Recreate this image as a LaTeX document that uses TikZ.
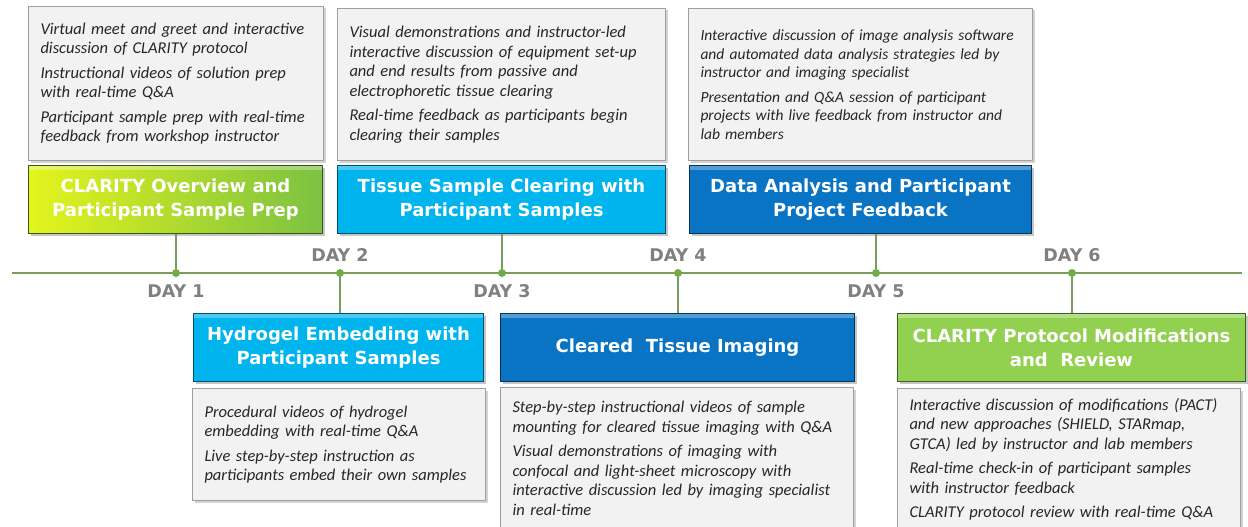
\documentclass[tikz,border=0pt]{standalone}
\usepackage{fontspec}
\setmainfont{Carlito}
\newfontfamily\headfont{DejaVu Sans}
\usepackage{xcolor}
\usetikzlibrary{positioning,shadows}

\definecolor{cyanbox}{HTML}{00B4EE}
\definecolor{bluebox}{HTML}{0A74C4}
\definecolor{limebox}{HTML}{92D050}
\definecolor{yellowbox}{HTML}{E4F41C}
\definecolor{greenbox}{HTML}{7CC142}
\definecolor{lineg}{HTML}{7A9C5C}
\definecolor{dotg}{HTML}{70AD47}
\definecolor{dayg}{HTML}{808080}
\definecolor{notefill}{HTML}{F2F2F2}
\definecolor{notetext}{HTML}{262626}

\begin{document}
\begin{tikzpicture}[x=1pt, y=-1pt,
    titlebox/.style={draw=#1!45!black, fill=#1, text=white, line width=1pt,
      font=\headfont\bfseries\fontsize{18}{24}\selectfont, align=center,
      anchor=north west, inner sep=0pt, minimum height=68pt,
      drop shadow={shadow xshift=2pt, shadow yshift=-2pt, opacity=0.45},
      path picture={\fill[white, opacity=0.3]
        (path picture bounding box.north west) rectangle
        ([yshift=-4pt]path picture bounding box.north east);}},
    notebox/.style={draw=gray!75, fill=notefill, text=notetext, line width=1pt,
      font=\itshape\fontsize{16.5}{19.5}\selectfont, align=left,
      anchor=north west, inner xsep=12pt, inner ysep=4pt,
      drop shadow={shadow xshift=2pt, shadow yshift=-2pt, opacity=0.35}},
    daydot/.style={circle, fill=dotg, inner sep=0pt, minimum size=8pt},
    daylab/.style={text=dayg, font=\headfont\bfseries\fontsize{17.5}{20}\selectfont, inner sep=1pt},
    link/.style={lineg, line width=1.5pt}]

  \useasboundingbox (0,0) rectangle (1248,527);

  % --- timeline ---
  \coordinate (tlL) at (12,273);
  \coordinate (tlR) at (1242,273);
  \draw[link] (tlL) -- (tlR);

  \node[daydot] (d1) at (176,273) {};
  \node[daydot] (d2) at (340,273) {};
  \node[daydot] (d3) at (502,273) {};
  \node[daydot] (d4) at (678,273) {};
  \node[daydot] (d5) at (876,273) {};
  \node[daydot] (d6) at (1072,273) {};

  \node[daylab, below=6pt of d1] (l1) {DAY 1};
  \node[daylab, above=6pt of d2] (l2) {DAY 2};
  \node[daylab, below=6pt of d3] (l3) {DAY 3};
  \node[daylab, above=6pt of d4] (l4) {DAY 4};
  \node[daylab, below=6pt of d5] (l5) {DAY 5};
  \node[daylab, above=6pt of d6] (l6) {DAY 6};

  % --- top row: days 1, 3, 5 ---
  \node[notebox, text width=271pt, minimum height=154pt] (n1) at (28,6)
    {Virtual meet and greet and interactive\\discussion of CLARITY protocol\\[5pt]
     Instructional videos of solution prep\\with real-time Q\&A\\[5pt]
     Participant sample prep with real-time\\feedback from workshop instructor};
  \node[titlebox=greenbox, left color=yellowbox, right color=greenbox,
    minimum width=294pt] (t1) at (28,165)
    {CLARITY Overview and\\Participant Sample Prep};

  \node[notebox, text width=304pt, minimum height=152pt] (n3) at (337,8)
    {Visual demonstrations and instructor-led\\interactive discussion of equipment set-up\\
     and end results from passive and\\electrophoretic tissue clearing\\[5pt]
     Real-time feedback as participants begin\\clearing their samples};
  \node[titlebox=cyanbox, minimum width=328pt] (t3) at (337,165)
    {Tissue Sample Clearing with\\Participant Samples};

  \node[notebox, text width=320pt, minimum height=152pt,
    font=\itshape\fontsize{15.5}{18.5}\selectfont] (n5) at (688,8)
    {Interactive discussion of image analysis software\\and automated data analysis strategies led by\\
     instructor and imaging specialist\\[6pt]
     Presentation and Q\&A session of participant\\projects with live feedback from instructor and\\lab members};
  \node[titlebox=bluebox, minimum width=342pt] (t5) at (689,165)
    {Data Analysis and Participant\\Project Feedback};

  % --- bottom row: days 2, 4, 6 ---
  \node[titlebox=cyanbox, minimum width=290pt] (t2) at (193,313)
    {Hydrogel Embedding with\\Participant Samples};
  \node[notebox, text width=269pt, minimum height=112pt] (n2) at (192,388)
    {Procedural videos of hydrogel\\embedding with real-time Q\&A\\[5pt]
     Live step-by-step instruction as\\participants embed their own samples};

  \node[titlebox=bluebox, minimum width=354pt] (t4) at (500,313)
    {Cleared\ \ Tissue Imaging};
  \node[notebox, text width=329pt, minimum height=142pt] (n4) at (500,387)
    {Step-by-step instructional videos of sample\\mounting for cleared tissue imaging with Q\&A\\[5pt]
     Visual demonstrations of imaging with\\confocal and light-sheet microscopy with\\
     interactive discussion led by imaging specialist\\in real-time};

  \node[titlebox=limebox, minimum width=348pt] (t6) at (897,313)
    {CLARITY Protocol Modifications\\and\ \ Review};
  \node[notebox, text width=319pt, minimum height=142pt] (n6) at (897,388)
    {Interactive discussion of modifications (PACT)\\and new approaches (SHIELD, STARmap,\\
     GTCA) led by instructor and lab members\\[5pt]
     Real-time check-in of participant samples\\with instructor feedback\\[5pt]
     CLARITY protocol review with real-time Q\&A};

  % --- connectors ---
  \draw[link] (t1.south -| d1) -- (d1);
  \draw[link] (t3.south -| d3) -- (d3);
  \draw[link] (t5.south -| d5) -- (d5);
  \draw[link] (d2) -- (d2 |- t2.north);
  \draw[link] (d4) -- (d4 |- t4.north);
  \draw[link] (d6) -- (d6 |- t6.north);

\end{tikzpicture}
\end{document}
